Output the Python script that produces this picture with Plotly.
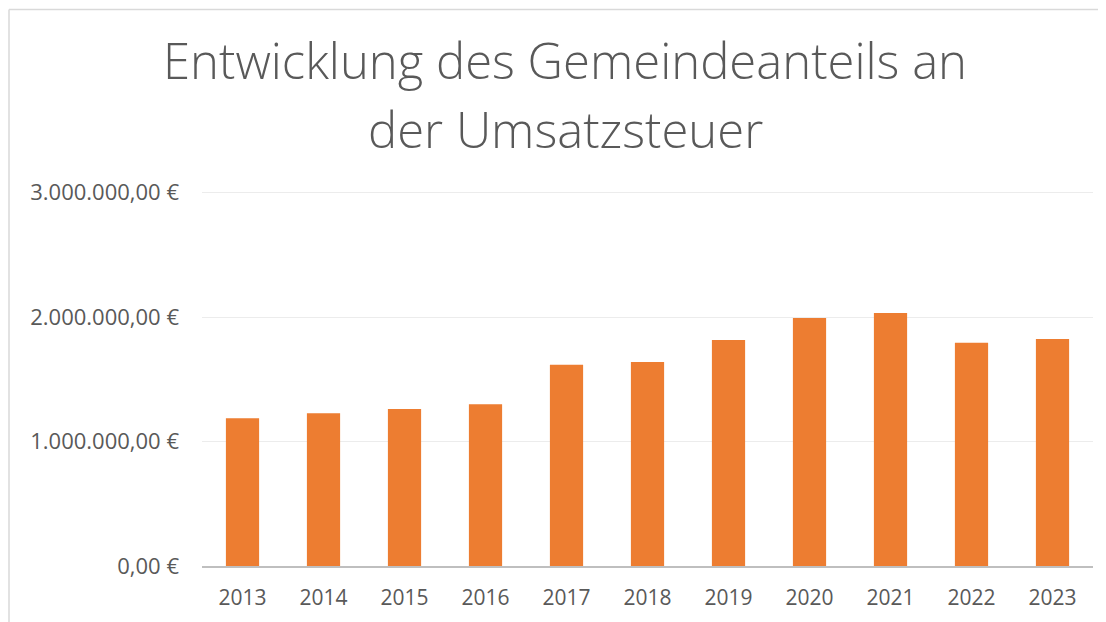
import plotly.graph_objects as go

years = ["2013", "2014", "2015", "2016", "2017", "2018", "2019", "2020", "2021", "2022", "2023"]
values = [1188000, 1228000, 1261000, 1301000, 1617000, 1639000, 1816000, 1993000, 2033000, 1794000, 1824000]
y_tickvals = [0, 1000000, 2000000, 3000000]
y_ticktext = ["0,00 €", "1.000.000,00 €", "2.000.000,00 €", "3.000.000,00 €"]
title_lines = ["Entwicklung des Gemeindeanteils an", "der Umsatzsteuer"]

OFF = 8  # page body margin
Y_TOP = 3030000
px_per_unit = 373 / 3000000
W, H = 1106 - OFF, 622 - OFF
L, R, B = 202 - OFF, 13, 56
T = 193 - OFF - (Y_TOP - 3000000) * px_per_unit
pw, ph = W - L - R, H - T - B

fig = go.Figure(go.Bar(x=years, y=values, marker=dict(color="#ED7D31", line=dict(width=0)),
                       hoverinfo="x+y"))

def px_x(x):
    return (x - OFF - L) / pw

def px_y(y):
    return (H - B - (y - OFF)) / ph

fig.add_shape(type="line", xref="paper", yref="paper", x0=px_x(9), x1=px_x(1120), y0=px_y(10), y1=px_y(10),
              line=dict(color="#d9d9d9", width=1.5))
fig.add_shape(type="line", xref="paper", yref="paper", x0=px_x(9), x1=px_x(9), y0=px_y(10), y1=px_y(640),
              line=dict(color="#d9d9d9", width=1.5))

title_font = dict(family="Open Sans", size=49, color="#595959", weight=300)
for line, ypix in zip(title_lines, [60, 129]):
    fig.add_annotation(text=line, xref="paper", yref="paper", x=px_x(565), y=px_y(ypix),
                       xanchor="center", yanchor="middle", showarrow=False, font=title_font)

fig.update_layout(
    width=W, height=H,
    margin=dict(l=L, r=R, t=T, b=B),
    paper_bgcolor="white", plot_bgcolor="white",
    bargap=0.59,
    showlegend=False,
    font=dict(family="Open Sans", color="#595959"),
)
fig.update_xaxes(showgrid=False, showline=True, linecolor="#bfbfbf", linewidth=2,
                 ticks="", tickfont=dict(size=21, color="#595959"), ticklabelstandoff=12)
fig.update_yaxes(range=[0, Y_TOP], tickvals=y_tickvals, ticktext=y_ticktext, showgrid=True,
                 gridcolor="#ececec", gridwidth=1, zeroline=False, showline=False, ticks="",
                 tickfont=dict(size=22, color="#595959"), ticklabelstandoff=22)

fig.write_html("out.html")
